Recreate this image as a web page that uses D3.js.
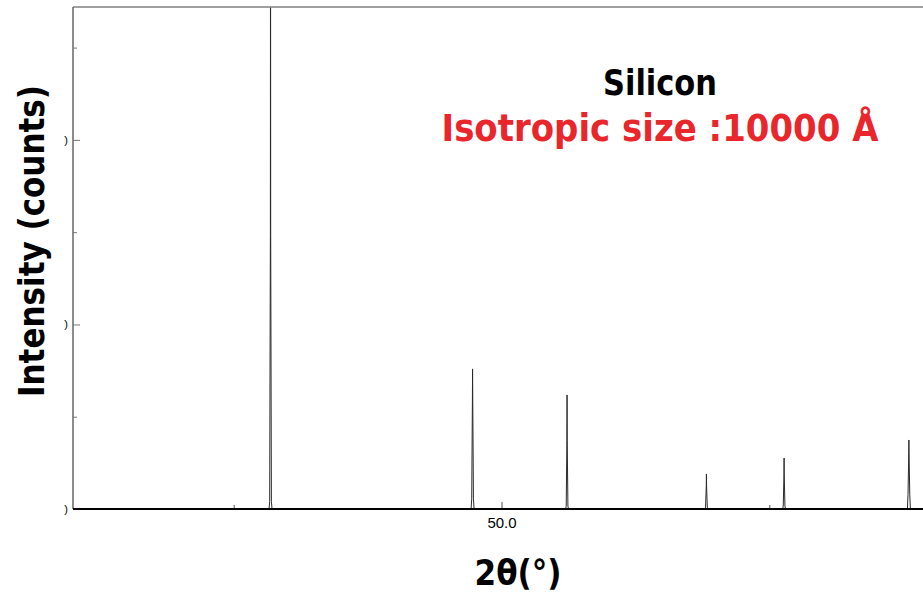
<!DOCTYPE html>
<html>
<head>
<meta charset="utf-8">
<script src="https://cdn.jsdelivr.net/npm/d3@7/dist/d3.min.js"></script>
<style>
  html, body { margin: 0; padding: 0; background: #fff; }
  svg { display: block; }
  .big { font-family: "DejaVu Sans", sans-serif; font-weight: bold; }
  .tick text { font-family: "Liberation Sans", Arial, sans-serif; }
</style>
</head>
<body>
<svg id="chart" width="923" height="597"></svg>
<script>
// Silicon reflections (2θ, degrees) and their simulated intensities (counts)
const hkl = ["111", "220", "311", "400", "331", "422"];
const peakPos = [28.44, 47.30, 56.12, 69.13, 76.38, 88.03];
const apexCounts = [36000, 7590, 6180, 1900, 2760, 3740];
const shoulderCounts = [14800, 5960, 3690, 1250, 1790, 3040];
const tailCounts = [400, 550, 150, 100, 150, 800];

// Axis ticks
const xMajorTicks = [50];
const xMinorTicks = [25, 75];
const yMajorTicks = [0, 10000, 20000];
const yMinorTicks = [5000, 15000, 25000];

(function () {
  const svg = d3.select("#chart");
  const W = 923;
  const mLeft = 73, mTop = 7, mBottom = 509, mRight = 930;

  const x = d3.scaleLinear().domain([10, 90]).range([mLeft, mRight]);
  const y = d3.scaleLinear().domain([0, 27200]).range([mBottom, mTop]);

  svg.append("defs").append("clipPath").attr("id", "plotClip")
    .append("rect").attr("x", mLeft).attr("y", mTop)
    .attr("width", W - mLeft).attr("height", mBottom - mTop);

  // peak profiles: baseline -> tail -> shoulder -> apex -> shoulder -> tail -> baseline
  const line = d3.line().x(d => x(d[0])).y(d => y(d[1]));
  const peaks = peakPos.map((p, i) => [
    [p - 0.14, 0],
    [p - 0.08, tailCounts[i]],
    [p - 0.015, shoulderCounts[i]],
    [p, apexCounts[i]],
    [p + 0.015, shoulderCounts[i]],
    [p + 0.08, tailCounts[i]],
    [p + 0.14, 0]
  ]);

  const plot = svg.append("g").attr("clip-path", "url(#plotClip)");
  plot.selectAll("path.peak").data(peaks).join("path")
    .attr("class", "peak")
    .attr("d", line)
    .attr("fill", "none")
    .attr("stroke", "#2a2a2a")
    .attr("stroke-width", 1);

  // frame: top border and left axis line
  svg.append("line").attr("x1", mLeft).attr("x2", W).attr("y1", mTop).attr("y2", mTop)
    .attr("stroke", "#808080").attr("stroke-width", 1.5);
  svg.append("line").attr("x1", mLeft).attr("x2", mLeft).attr("y1", mTop).attr("y2", mBottom)
    .attr("stroke", "#666").attr("stroke-width", 1.5);

  // y axis (ticks point inward)
  const yMajor = svg.append("g").attr("transform", `translate(${mLeft},0)`)
    .call(d3.axisLeft(y).tickValues(yMajorTicks).tickSize(-7).tickSizeOuter(0)
      .tickFormat(() => ")"));
  const yMinor = svg.append("g").attr("transform", `translate(${mLeft},0)`)
    .call(d3.axisLeft(y).tickValues(yMinorTicks).tickSize(-4).tickSizeOuter(0).tickFormat(""));
  [yMajor, yMinor].forEach(g => {
    g.select(".domain").remove();
    g.selectAll(".tick line").attr("stroke", "#777").attr("stroke-width", 1);
  });
  yMajor.selectAll(".tick text").attr("font-size", 11).attr("fill", "#000")
    .attr("text-anchor", "end").attr("x", -5);

  // x axis (ticks point up into the plot)
  const xMajor = svg.append("g").attr("transform", `translate(0,${mBottom})`)
    .call(d3.axisBottom(x).tickValues(xMajorTicks).tickSize(-7).tickSizeOuter(0)
      .tickPadding(8).tickFormat(d3.format(".1f")));
  const xMinor = svg.append("g").attr("transform", `translate(0,${mBottom})`)
    .call(d3.axisBottom(x).tickValues(xMinorTicks).tickSize(-4).tickSizeOuter(0).tickFormat(""));
  [xMajor, xMinor].forEach(g => {
    g.select(".domain").remove();
    g.selectAll(".tick line").attr("stroke", "#555").attr("stroke-width", 1);
  });
  xMajor.selectAll(".tick text").attr("font-size", 15).attr("fill", "#000");

  svg.append("line").attr("x1", mLeft).attr("x2", W).attr("y1", mBottom).attr("y2", mBottom)
    .attr("stroke", "#000").attr("stroke-width", 2);

  // titles
  svg.append("text").attr("class", "big")
    .attr("x", 660).attr("y", 95).attr("text-anchor", "middle")
    .attr("font-size", 35).attr("fill", "#000")
    .attr("textLength", 114).attr("lengthAdjust", "spacingAndGlyphs")
    .text("Silicon");
  svg.append("text").attr("class", "big")
    .attr("x", 660).attr("y", 141).attr("text-anchor", "middle")
    .attr("font-size", 37).attr("fill", "#e8262b")
    .attr("textLength", 437).attr("lengthAdjust", "spacingAndGlyphs")
    .text("Isotropic size :10000 Å");

  // axis titles
  svg.append("text").attr("class", "big")
    .attr("transform", "translate(44,241) rotate(-90)")
    .attr("text-anchor", "middle").attr("font-size", 35).attr("fill", "#000")
    .attr("textLength", 312).attr("lengthAdjust", "spacingAndGlyphs")
    .text("Intensity (counts)");
  svg.append("text").attr("class", "big")
    .attr("x", 518).attr("y", 585).attr("text-anchor", "middle")
    .attr("font-size", 35).attr("fill", "#000")
    .attr("textLength", 87).attr("lengthAdjust", "spacingAndGlyphs")
    .text("2θ(°)");
})();
</script>
</body>
</html>
